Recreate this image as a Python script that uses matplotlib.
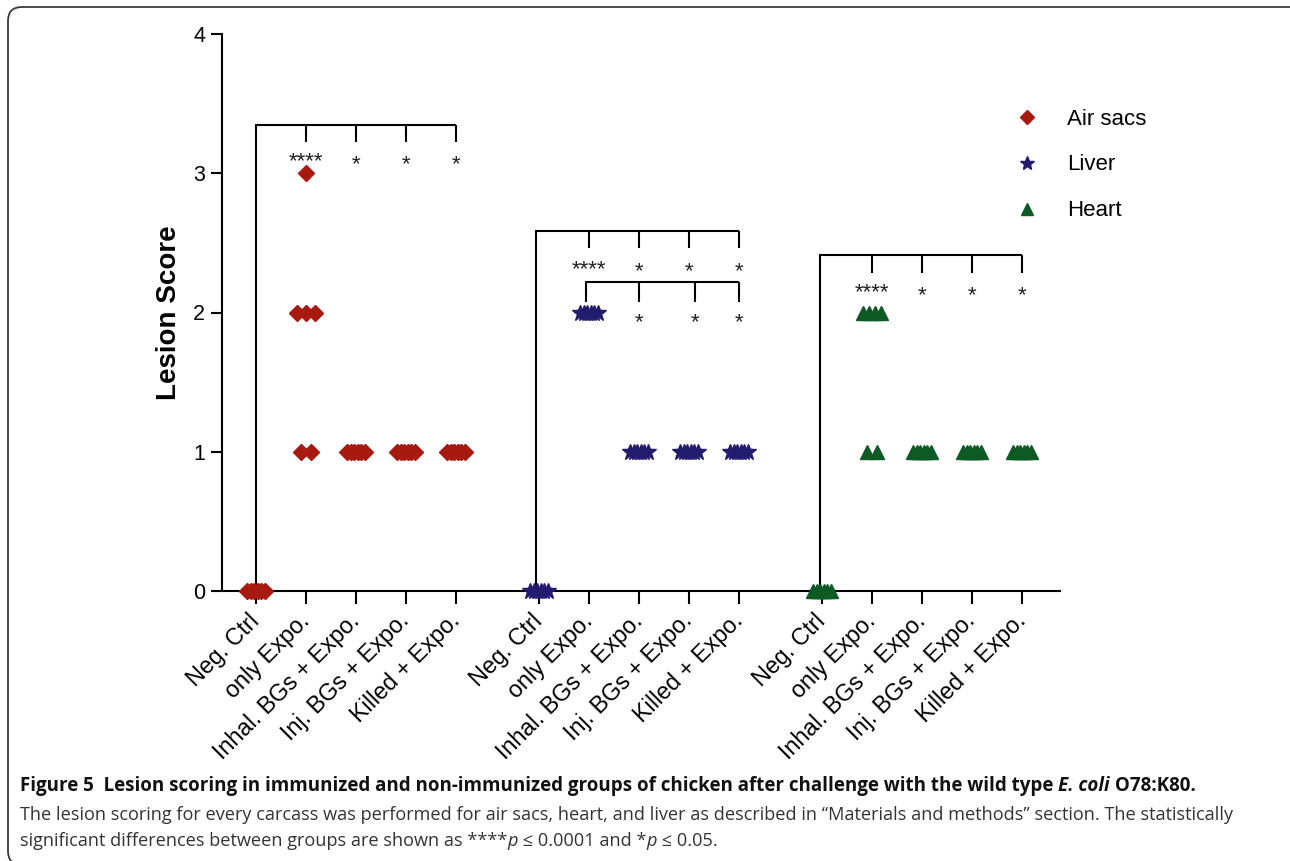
import numpy as np
import matplotlib
matplotlib.use("Agg")
import matplotlib.pyplot as plt
from matplotlib.lines import Line2D
from matplotlib.patches import FancyBboxPatch
from matplotlib.transforms import IdentityTransform, ScaledTranslation
from matplotlib import font_manager

# ---------------- data ----------------
groups = ["Neg. Ctrl", "only Expo.", "Inhal. BGs + Expo.", "Inj. BGs + Expo.", "Killed + Expo."]
air_sacs = [[0, 0, 0, 0, 0, 0], [3, 2, 2, 2, 1, 1], [1, 1, 1, 1, 1, 1], [1, 1, 1, 1, 1, 1], [1, 1, 1, 1, 1, 1]]
liver = [[0, 0, 0, 0, 0, 0], [2, 2, 2, 2, 2, 2], [1, 1, 1, 1, 1, 1], [1, 1, 1, 1, 1, 1], [1, 1, 1, 1, 1, 1]]
heart = [[0, 0, 0, 0, 0, 0], [2, 2, 2, 2, 1, 1], [1, 1, 1, 1, 1, 1], [1, 1, 1, 1, 1, 1], [1, 1, 1, 1, 1, 1]]
organ_names = ["Air sacs", "Liver", "Heart"]
sig_vs_neg = ["****", "*", "*", "*"]
sig_liver_vs_expo = ["*", "*", "*"]
y_ticks = [0, 1, 2, 3, 4]

# ---------------- style ----------------
FONT = ["Liberation Sans", "DejaVu Sans"]
plt.rcParams["font.family"] = FONT
colors = ["#a8190f", "#231c6e", "#0d5a25"]
markers = ["D", "*", "^"]
msizes = [8, 12, 10]
group_shift = 5.66

W, H = 1290, 861
fig = plt.figure(figsize=(W / 100, H / 100), dpi=100)
ax = fig.add_axes([222 / W, (H - 591) / H, (1060 - 222) / W, (591 - 34) / H])

def spread(vals):
    vals = np.asarray(vals, float)
    offs = np.zeros(len(vals))
    for v in np.unique(vals):
        idx = np.where(vals == v)[0]
        n = len(idx)
        s = min((n - 1) * 0.19, 0.36)
        offs[idx] = np.linspace(-s / 2, s / 2, n) if n > 1 else 0
    return offs

all_ticks = []
for oi, organ in enumerate([air_sacs, liver, heart]):
    base = oi * group_shift
    for gi, vals in enumerate(organ):
        xc = base + gi
        all_ticks.append(xc)
        xs = xc + spread(vals)
        ax.plot(xs, vals, linestyle="none", marker=markers[oi], ms=msizes[oi],
                color=colors[oi], mec=colors[oi], clip_on=False, zorder=3)

lw = 1.5
def bracket(x0, xs, ytop, ybot, y0, labels, ystar, ystar4):
    ax.plot([x0, x0, xs[-1]], [y0, ytop, ytop], color="black", lw=lw, clip_on=False,
            solid_capstyle="butt", solid_joinstyle="miter")
    for x, lab in zip(xs, labels):
        ax.plot([x, x], [ytop, ybot], color="black", lw=lw, clip_on=False, solid_capstyle="butt")
        ax.text(x, ystar4 if lab == "****" else ystar, lab, ha="center", va="center",
                fontsize=16, color="#222222")

# Air sacs
bracket(0, [1, 2, 3, 4], 3.347, 3.224, 0, sig_vs_neg, 3.06, 3.08)
# Liver
b = group_shift
bracket(b + 0 - 0.06, [b + 1, b + 2, b + 3, b + 4], 2.585, 2.463, 0, sig_vs_neg, 2.29, 2.31)
bracket(b + 1 - 0.06, [b + 2, b + 3.12, b + 4], 2.219, 2.075, 2.075, sig_liver_vs_expo, 1.93, 1.93)
# Heart
b = 2 * group_shift
bracket(b + 0 - 0.05, [b + 1, b + 2, b + 3, b + 4], 2.413, 2.284, 0, sig_vs_neg, 2.12, 2.14)

ax.set_xlim(-0.68, 16.08)
ax.set_ylim(0, 4)
ax.set_yticks(y_ticks)
ax.set_yticklabels([str(t) for t in y_ticks], fontsize=15.5)
ax.set_xticks(all_ticks)
ax.set_xticklabels(groups * 3, rotation=45, ha="right", va="center",
                   rotation_mode="anchor", fontsize=16.8)
shift = ScaledTranslation(-6 / 100, 0, fig.dpi_scale_trans)
for lab in ax.get_xticklabels():
    lab.set_transform(lab.get_transform() + shift)
for s in ["top", "right"]:
    ax.spines[s].set_visible(False)
for s in ["left", "bottom"]:
    ax.spines[s].set_linewidth(1.5)
ax.tick_params(axis="y", direction="out", length=8, width=1.5, pad=4)
ax.tick_params(axis="x", direction="out", length=9, width=1.5, pad=10)
ax.set_ylabel("Lesion Score", fontsize=20, fontweight="bold", labelpad=8)

handles = [Line2D([], [], linestyle="none", marker=m, ms=ms * 0.9, color=c)
           for m, ms, c in zip(markers, msizes, colors)]
ax.legend(handles, organ_names, loc="center left", bbox_to_anchor=(0.937, 0.765),
          frameon=False, fontsize=16, labelspacing=1.12, handlelength=1.0,
          handletextpad=1.3, borderaxespad=0)

# ---------------- border ----------------
box = FancyBboxPatch((8, -4), 1300, 858, boxstyle="round,pad=0,rounding_size=14",
                     transform=IdentityTransform(), fill=False, ec="#3a3a3a", lw=1.3)
fig.patches.append(box)

# ---------------- caption ----------------
def pick_font(names):
    for n in names:
        try:
            font_manager.findfont(font_manager.FontProperties(family=n), fallback_to_default=False)
            return n
        except Exception:
            continue
    return "DejaVu Sans"

CAP = [pick_font(["Liberation Sans Narrow", "Open Sans"]), "DejaVu Sans"]
fig.canvas.draw()
renderer = fig.canvas.get_renderer()

def runs_width(runs, fs):
    total = 0
    for txt, wt, st in runs:
        t = fig.text(0, 0, txt, fontsize=fs, fontweight=wt, fontstyle=st, family=CAP)
        total += t.get_window_extent(renderer).width
        t.remove()
    return total

def draw_runs(runs, x_px, y_px, target_w=None, fs=12, color="black"):
    if target_w is not None:
        fs = fs * target_w / runs_width(runs, fs)
    x = x_px
    for txt, wt, st in runs:
        t = fig.text(x / W, 1 - y_px / H, txt, fontsize=fs, fontweight=wt, fontstyle=st,
                     family=CAP, color=color, va="center", ha="left")
        x += t.get_window_extent(renderer).width
    return fs

line1 = [("Figure 5  Lesion scoring in immunized and non-immunized groups of chicken after challenge with the wild type ", "bold", "normal"),
         ("E. coli", "bold", "italic"),
         (" O78:K80.", "bold", "normal")]
draw_runs(line1, 20, 786, target_w=1172, fs=12, color="#111111")
line2 = [("The lesion scoring for every carcass was performed for air sacs, heart, and liver as described in \u201cMaterials and methods\u201d section. The statistically", "normal", "normal")]
fs2 = draw_runs(line2, 20, 815, target_w=1203, fs=12, color="#333333")
line3 = [("significant differences between groups are shown as ****", "normal", "normal"),
         ("p", "normal", "italic"), (" \u2264 0.0001 and *", "normal", "normal"),
         ("p", "normal", "italic"), (" \u2264 0.05.", "normal", "normal")]
draw_runs(line3, 20, 841, fs=fs2, color="#333333")

fig.savefig("out.png", dpi=100)
